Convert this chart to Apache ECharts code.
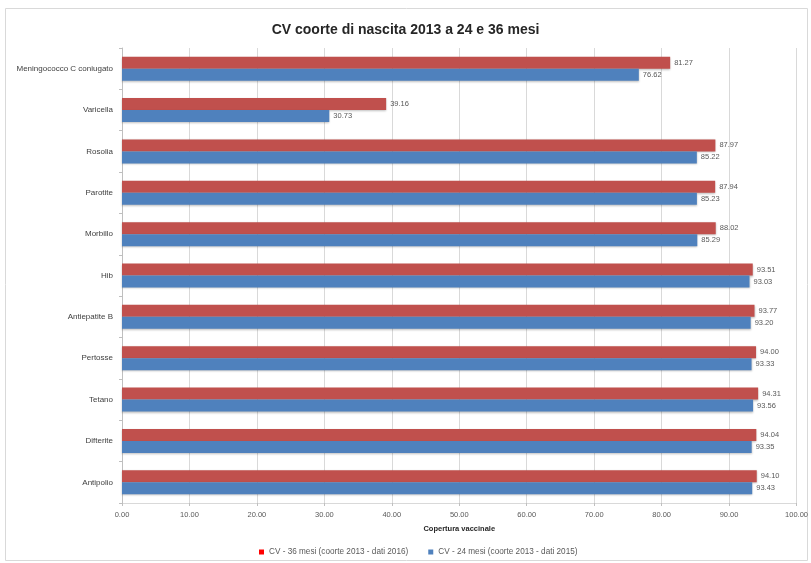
<!DOCTYPE html>
<html>
<head>
<meta charset="utf-8">
<script src="https://cdn.jsdelivr.net/npm/echarts@6/dist/echarts.min.js"></script>
<style>html,body{margin:0;padding:0;background:#fff;}#c{width:811px;height:563px;}</style>
</head>
<body>
<div id="c"></div>
<script>
const categories = ["Meningococco C coniugato","Varicella","Rosolia","Parotite","Morbillo","Hib","Antiepatite B","Pertosse","Tetano","Difterite","Antipolio"];
const cv36 = [81.27,39.16,87.97,87.94,88.02,93.51,93.77,94.00,94.31,94.04,94.10];
const cv24 = [76.62,30.73,85.22,85.23,85.29,93.03,93.20,93.33,93.56,93.35,93.43];
const xTicks = [0,10,20,30,40,50,60,70,80,90,100];
const name36 = "CV - 36 mesi (coorte 2013 - dati 2016)";
const name24 = "CV - 24 mesi (coorte 2013 - dati 2015)";
const FONT = "'Liberation Sans Narrow','Liberation Sans',Arial,sans-serif";

const chart = echarts.init(document.getElementById('c'));
const lbl = {show:true, position:'right', distance:4, fontSize:7.5, color:'#595959', fontFamily:FONT, formatter:p=>p.value.toFixed(2)};
chart.setOption({
  animation:false,
  textStyle:{fontFamily:FONT},
  graphic:[{type:'rect', shape:{x:5.5,y:8.5,width:802,height:552}, style:{fill:'none', stroke:'#d9d9d9', lineWidth:1}, z:-1}],
  title:{text:"CV coorte di nascita 2013 a 24 e 36 mesi", left:'center', top:18, textStyle:{fontSize:14, fontWeight:'bold', color:'#262626', fontFamily:FONT}},
  legend:{bottom:2, left:254, itemWidth:5, itemHeight:5, itemGap:20, itemStyle:{}, icon:'rect', textStyle:{fontSize:8.2, color:'#595959', fontFamily:FONT},
    data:[{name:name36, itemStyle:{color:'#ff0000'}},{name:name24}]},
  grid:{left:122, right:14, top:48, bottom:60, containLabel:false},
  xAxis:{type:'value', min:0, max:100, interval:10, name:'Copertura vaccinale', nameLocation:'middle', nameGap:22,
    nameTextStyle:{fontSize:7.5, fontWeight:'bold', color:'#262626'},
    axisLabel:{fontSize:7.5, color:'#595959', margin:8, formatter:v=>xTicks.includes(v)?v.toFixed(2):''},
    axisLine:{show:true, lineStyle:{color:'#d9d9d9'}}, axisTick:{show:true, length:3, lineStyle:{color:'#bfbfbf'}},
    splitLine:{show:true, lineStyle:{color:'#d9d9d9', width:1}}},
  yAxis:{type:'category', data:categories, inverse:true,
    axisLabel:{fontSize:8, color:'#404040', margin:9},
    axisLine:{show:true, lineStyle:{color:'#bfbfbf'}}, axisTick:{show:true, length:3, lineStyle:{color:'#bfbfbf'}}},
  series:[
    {name:name36, type:'bar', data:cv36, barGap:'0%', barCategoryGap:'42%', itemStyle:{color:'#C0504D', shadowColor:'rgba(0,0,0,0.25)', shadowBlur:2, shadowOffsetY:1}, label:lbl},
    {name:name24, type:'bar', data:cv24, barGap:'0%', barCategoryGap:'42%', itemStyle:{color:'#4F81BD', shadowColor:'rgba(0,0,0,0.25)', shadowBlur:2, shadowOffsetY:1}, label:lbl}
  ]
});
</script>
</body>
</html>
